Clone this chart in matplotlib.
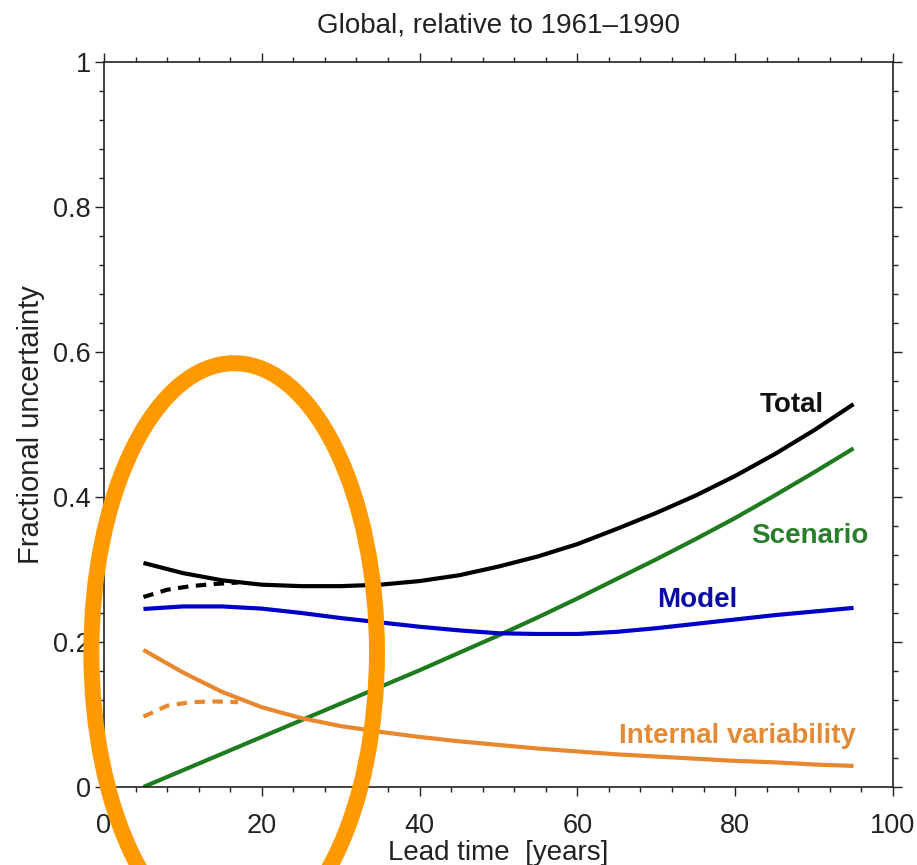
import matplotlib
matplotlib.use("Agg")
from matplotlib import pyplot as plt
from matplotlib.patches import Ellipse
from matplotlib.ticker import MultipleLocator

plt.rcParams['font.family'] = ['Liberation Sans', 'DejaVu Sans']

# lead time (years) and fractional uncertainty of each component
lead_time = [5, 10, 15, 20, 25, 30, 35, 40, 45, 50, 55, 60, 65, 70, 75, 80, 85, 90, 95]
total = [0.309, 0.295, 0.285, 0.279, 0.277, 0.277, 0.279, 0.284, 0.292, 0.304,
         0.318, 0.335, 0.356, 0.378, 0.402, 0.429, 0.459, 0.492, 0.528]
scenario = [0.000, 0.023, 0.046, 0.069, 0.092, 0.115, 0.138, 0.161, 0.185, 0.209,
            0.234, 0.260, 0.287, 0.314, 0.342, 0.371, 0.402, 0.434, 0.467]
model = [0.2455, 0.249, 0.249, 0.246, 0.240, 0.233, 0.227, 0.221, 0.216, 0.212,
         0.211, 0.211, 0.214, 0.219, 0.225, 0.231, 0.237, 0.242, 0.247]
internal = [0.189, 0.158, 0.131, 0.110, 0.095, 0.084, 0.076, 0.069, 0.063, 0.058,
            0.053, 0.049, 0.045, 0.042, 0.039, 0.036, 0.034, 0.031, 0.029]

# alternative early estimates (dashed)
lead_time_early = [5, 8, 11, 14, 17]
total_early = [0.262, 0.272, 0.277, 0.280, 0.282]
internal_early = [0.097, 0.112, 0.117, 0.118, 0.117]

black = '#000000'
blue = '#0000c8'
green = '#1e7b1e'
orange = '#e8872e'

fig = plt.figure(figsize=(9.17, 8.65), dpi=100)
ax = fig.add_axes([0.1134, 0.0902, 0.8604, 0.8382])

lw = 3.0
ax.plot(lead_time, total, color=black, lw=lw, solid_capstyle='butt')
ax.plot(lead_time, scenario, color=green, lw=lw, solid_capstyle='butt')
ax.plot(lead_time, model, color=blue, lw=lw, solid_capstyle='butt')
ax.plot(lead_time, internal, color=orange, lw=lw, solid_capstyle='butt')
ax.plot(lead_time_early, total_early, color=black, lw=lw, ls=(0, (2.5, 1.8)))
ax.plot(lead_time_early, internal_early, color=orange, lw=lw, ls=(0, (2.5, 1.8)))

lbl = dict(fontsize=20, fontweight='bold', ha='center', va='baseline')
ax.text(87.2, 0.517, 'Total', color='#111111', **lbl)
ax.text(89.5, 0.337, 'Scenario', color='#2a7d2a', **lbl)
ax.text(75.2, 0.248, 'Model', color='#0a0aa8', **lbl)
ax.text(80.3, 0.061, 'Internal variability', color='#e38a36', **lbl)

ax.set_xlim(0, 100)
ax.set_ylim(0, 1)
ax.xaxis.set_minor_locator(MultipleLocator(4))
ax.yaxis.set_minor_locator(MultipleLocator(0.04))
ax.set_xticks([0, 20, 40, 60, 80, 100])
ax.set_xticklabels(['0', '20', '40', '60', '80', '100'])
ax.set_yticks([0, 0.2, 0.4, 0.6, 0.8, 1])
ax.set_yticklabels(['0', '0.2', '0.4', '0.6', '0.8', '1'])

ax.tick_params(which='both', direction='out', top=True, right=True,
               color='#222222', width=1.0)
ax.tick_params(which='major', length=6.5)
ax.tick_params(which='minor', length=3.6)
ax.tick_params(axis='x', which='major', labelsize=19.5, pad=12, labelcolor='#222222')
ax.tick_params(axis='y', which='major', labelsize=19.5, pad=3, labelcolor='#222222')
for s in ax.spines.values():
    s.set_linewidth(1.2)
    s.set_color('#222222')

ax.set_xlabel('Lead time  [years]', fontsize=20, color='#222222', labelpad=1)
ax.set_ylabel('Fractional uncertainty', fontsize=21, color='#222222', labelpad=6)
ax.set_title('Global, relative to 1961\u20131990', fontsize=20, color='#222222', pad=21)

# highlight ring over the first decades
ring = Ellipse((16.5, 0.186), width=36.2, height=0.797, fill=False,
               edgecolor='#ff9900', lw=11.5, clip_on=False, zorder=10)
ax.add_patch(ring)

fig.savefig('out.png', dpi=100)
